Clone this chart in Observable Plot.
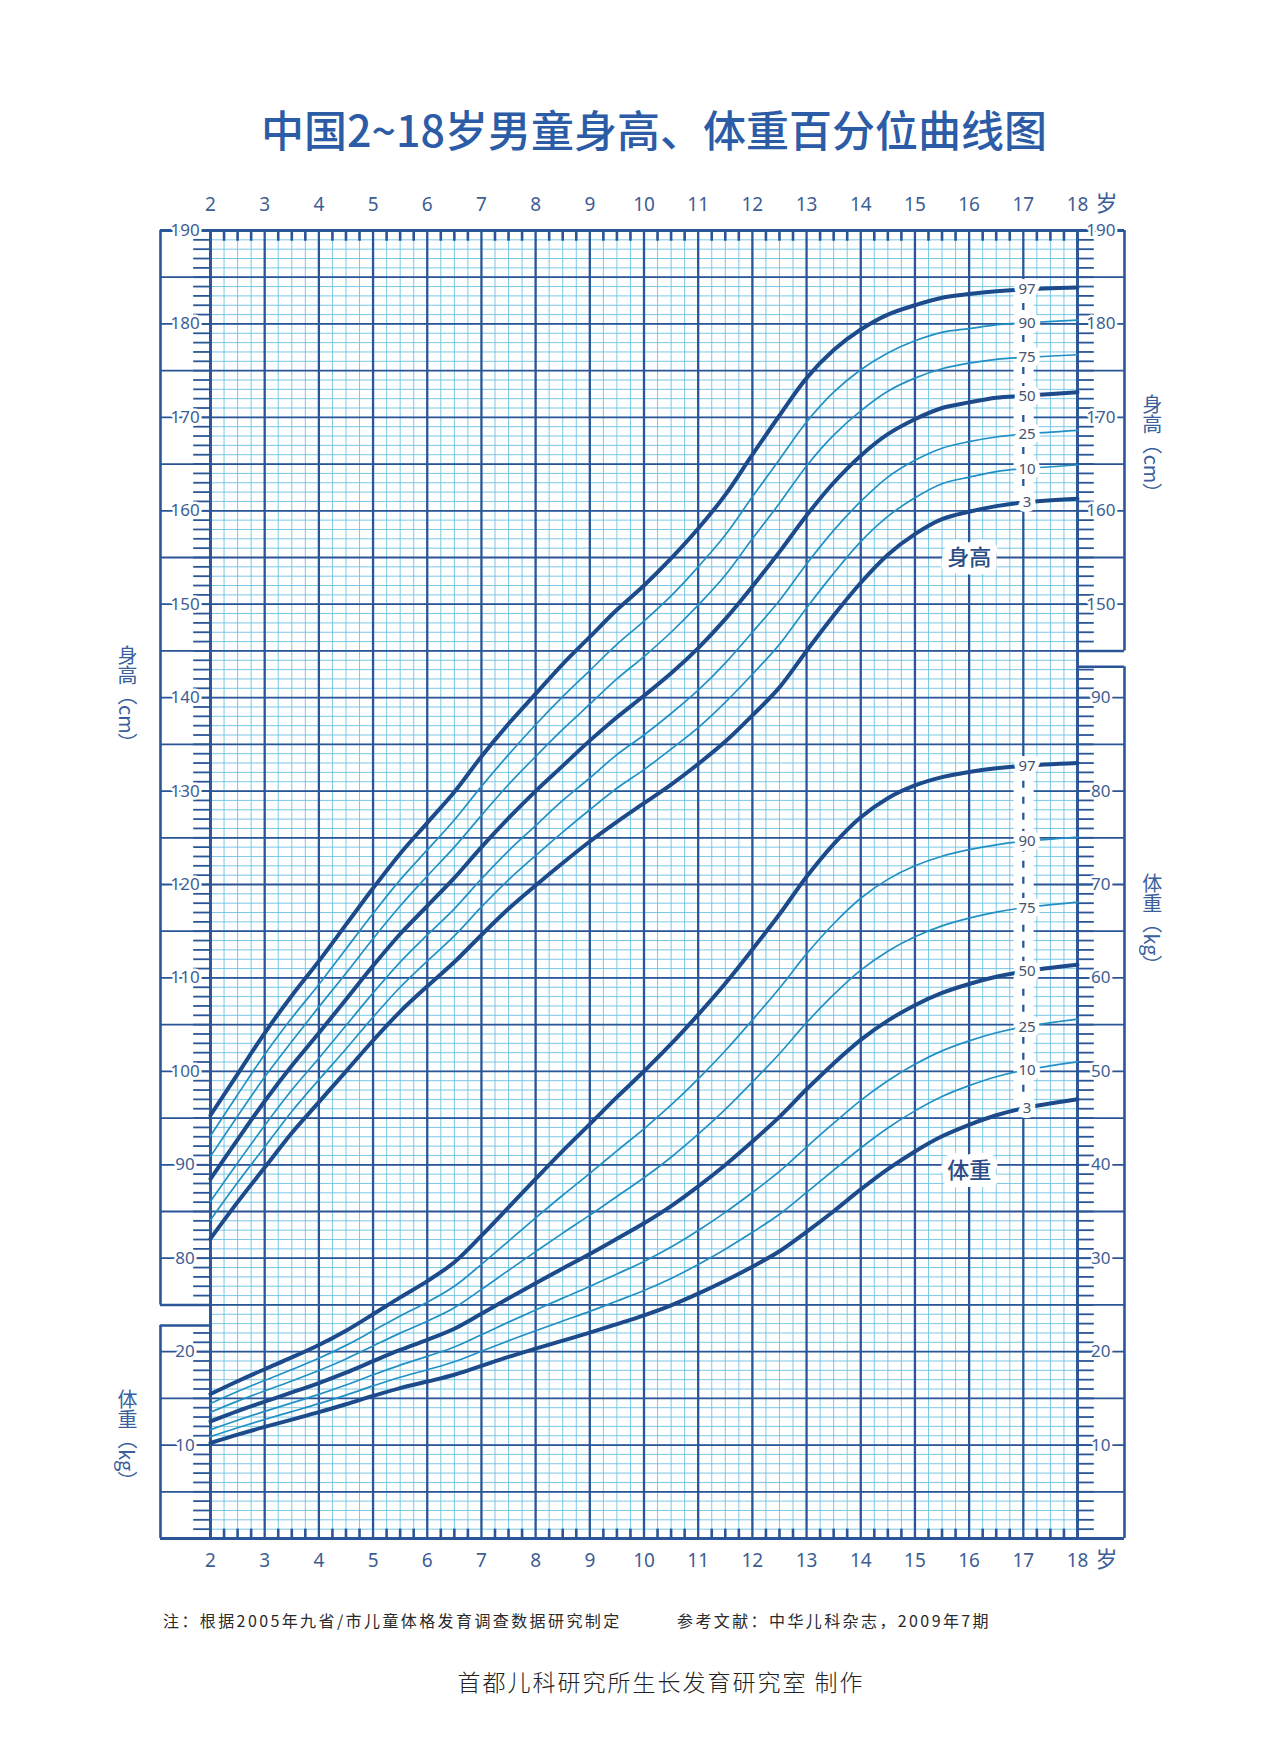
<!DOCTYPE html>
<html>
<head>
<meta charset="utf-8">
<script src="https://cdn.jsdelivr.net/npm/d3@7"></script>
<script src="https://cdn.jsdelivr.net/npm/@observablehq/plot@0.6"></script>
<style>
  body { margin: 0; background: #ffffff; }
  #page { position: relative; width: 1280px; height: 1752px; overflow: hidden; background: #ffffff; }
  #title { position: absolute; top: 100px; left: 14px; width: 1280px; text-align: center;
           font-family: "Noto Sans CJK SC", sans-serif; font-size: 43px; font-weight: 500;
           color: #2c5ca6; line-height: 56px; white-space: nowrap; }
  #chart { position: absolute; top: 160px; left: 0; }
  .note { position: absolute; top: 1609px; font-family: "Noto Sans CJK SC", sans-serif;
          font-size: 16px; line-height: 22px; color: #2a2a2a; letter-spacing: 2.4px; white-space: nowrap; }
  #credit { position: absolute; top: 1665px; left: 0; width: 1280px; text-align: center; padding-left: 42px; box-sizing: border-box;
            font-family: "Noto Sans CJK SC", sans-serif; font-size: 23px; font-weight: 300; line-height: 32px;
            color: #222; letter-spacing: 2px; white-space: nowrap; }
</style>
</head>
<body>
<div id="page">
  <div id="title">中国2~18岁男童身高、体重百分位曲线图</div>
  <div id="chart"></div>
  <div class="note" style="left:163px;">注：根据2005年九省/市儿童体格发育调查数据研究制定</div>
  <div class="note" style="left:677px;">参考文献：中华儿科杂志，2009年7期</div>
  <div id="credit">首都儿科研究所生长发育研究室 制作</div>
</div>
<script>
// ---------------- data ----------------
const ages = [2,2.5,3,3.5,4,4.5,5,5.5,6,6.5,7,7.5,8,8.5,9,9.5,10,10.5,11,11.5,12,12.5,13,13.5,14,14.5,15,15.5,16,16.5,17,18];
const percentiles = [3,10,25,50,75,90,97];
const thickPercentiles = [3,50,97];

// height (cm)
const heightP3  = [82.1,86.0,89.7,93.4,96.7,100.0,103.3,106.4,109.1,111.7,114.6,117.4,119.9,122.3,124.6,126.7,128.7,130.7,132.9,135.3,138.1,141.1,145.0,148.8,152.3,155.3,157.5,159.1,159.9,160.5,160.9,161.3];
const heightP10 = [84.1,88.1,91.9,95.7,99.1,102.4,105.8,109.0,111.8,114.5,117.6,120.5,123.1,125.6,128.0,130.3,132.3,134.5,136.8,139.5,142.5,145.7,149.6,153.3,156.7,159.4,161.4,162.9,163.6,164.2,164.5,164.9];
const heightP25 = [86.1,90.2,94.2,98.0,101.4,104.9,108.4,111.7,114.6,117.4,120.6,123.6,126.3,129.0,131.4,133.9,136.0,138.3,140.8,143.7,147.0,150.4,154.3,157.9,161.0,163.6,165.4,166.7,167.4,167.9,168.2,168.6];
const heightP50 = [88.5,92.7,96.8,100.6,104.1,107.7,111.3,114.7,117.7,120.7,124.0,127.1,130.0,132.7,135.4,137.9,140.2,142.6,145.3,148.4,151.9,155.6,159.5,163.0,165.9,168.2,169.8,171.0,171.6,172.1,172.3,172.7];
const heightP75 = [90.9,95.2,99.4,103.2,106.9,110.5,114.2,117.7,120.9,124.0,127.4,130.7,133.7,136.6,139.3,142.0,144.4,147.0,149.9,153.1,157.0,160.8,164.8,168.1,170.7,172.8,174.2,175.2,175.8,176.2,176.4,176.7];
const heightP90 = [93.1,97.5,101.8,105.7,109.3,113.1,116.9,120.5,123.7,126.9,130.5,133.9,137.1,140.1,142.9,145.7,148.2,150.9,154.0,157.4,161.5,165.5,169.5,172.7,175.1,176.9,178.2,179.1,179.5,179.9,180.1,180.4];
const heightP97 = [95.3,99.7,104.1,108.1,111.8,115.7,119.6,123.3,126.6,129.9,133.7,137.2,140.4,143.6,146.5,149.4,152.0,154.9,158.1,161.7,166.0,170.2,174.2,177.2,179.4,181.0,182.0,182.8,183.2,183.5,183.7,183.9];

// weight (kg)
const weightP3  = [10.22,11.11,11.94,12.73,13.52,14.37,15.26,16.09,16.80,17.53,18.48,19.43,20.32,21.18,22.04,22.95,23.89,24.96,26.21,27.59,29.09,30.74,32.82,35.03,37.36,39.53,41.43,43.05,44.28,45.30,46.04,47.01];
const weightP10 = [10.90,11.85,12.74,13.58,14.43,15.35,16.33,17.26,18.06,18.92,20.04,21.17,22.24,23.28,24.31,25.42,26.55,27.83,29.33,30.97,32.77,34.71,37.04,39.42,41.80,43.94,45.77,47.31,48.47,49.42,50.11,51.02];
const weightP25 = [11.65,12.66,13.61,14.51,15.43,16.43,17.52,18.56,19.49,20.49,21.81,23.16,24.46,25.73,26.98,28.31,29.66,31.20,32.97,34.91,37.03,39.29,41.90,44.45,46.90,49.00,50.75,52.19,53.26,54.13,54.77,55.60];
const weightP50 = [12.54,13.64,14.65,15.63,16.64,17.75,18.98,20.18,21.26,22.45,24.06,25.72,27.33,28.91,30.46,32.09,33.74,35.58,37.69,39.98,42.49,45.13,48.08,50.85,53.37,55.43,57.08,58.39,59.35,60.12,60.68,61.40];
const weightP75 = [13.51,14.70,15.80,16.86,17.98,19.22,20.61,21.98,23.26,24.70,26.66,28.70,30.71,32.69,34.61,36.61,38.61,40.81,43.27,45.94,48.86,51.89,55.21,58.21,60.83,62.86,64.40,65.57,66.40,67.05,67.51,68.11];
const weightP90 = [14.46,15.73,16.92,18.08,19.29,20.67,22.23,23.81,25.29,27.00,29.35,31.84,34.31,36.74,39.08,41.49,43.85,46.40,49.20,52.21,55.50,58.90,62.57,65.80,68.53,70.55,72.00,73.03,73.73,74.25,74.62,75.08];
const weightP97 = [15.46,16.83,18.12,19.38,20.71,22.24,24.00,25.81,27.55,29.57,32.41,35.45,38.49,41.49,44.35,47.24,50.01,52.93,56.07,59.40,63.04,66.81,70.83,74.33,77.20,79.24,80.60,81.49,82.05,82.44,82.70,83.00];

// tick labels
const yearTicks = [2,3,4,5,6,7,8,9,10,11,12,13,14,15,16,17,18];
const heightTicksLeft = [80,90,100,110,120,130,140,150,160,170,180,190];
const weightTicksLeft = [10,20];
const heightTicksRight = [150,160,170,180,190];
const weightTicksRight = [10,20,30,40,50,60,70,80,90];
const ageUnit = "岁";
const axisTitleHeight = "身高（cm）";
const axisTitleWeight = "体重（kg）";
const curveTitleHeight = "身高";
const curveTitleWeight = "体重";
const labelAge = 17;

// ---------------- layout (decoration) ----------------
const WEIGHT_OFFSET = 50;          // weight kg shares the cm grid: kg + 50
const Y_MIN = 50, Y_MAX = 190;
const X_MIN = 2, X_MAX = 18;
const LEFT_BOX = 1.077, RIGHT_BOX = 18.867;
const LEFT_LABEL = 1.53, RIGHT_LABEL = 18.43;
const LEFT_TITLE = 0.47, RIGHT_TITLE = 19.38;
const TICK_LEN = 0.31;
const LEFT_HEIGHT_FROM = 75, LEFT_WEIGHT_TO = 22.8;
const RIGHT_HEIGHT_FROM = 145, RIGHT_WEIGHT_TO = 93.3;

const C_MINOR = "#6cc2e3";
const C_MAJOR = "#2a5596";
const C_THICK = "#1c4a8b";
const C_THIN  = "#2290c4";
const C_TEXT  = "#3d5e94";
const C_PLABEL = "#44536f";

const heightSeries = {3:heightP3,10:heightP10,25:heightP25,50:heightP50,75:heightP75,90:heightP90,97:heightP97};
const weightSeries = {3:weightP3,10:weightP10,25:weightP25,50:weightP50,75:weightP75,90:weightP90,97:weightP97};

const rows = [];
for (const p of percentiles) {
  ages.forEach((a, i) => {
    rows.push({age: a, v: heightSeries[p][i], key: "h" + p, p});
    rows.push({age: a, v: weightSeries[p][i] + WEIGHT_OFFSET, key: "w" + p, p});
  });
}
const thinRows = rows.filter(d => !thickPercentiles.includes(d.p));
const thickRows = rows.filter(d => thickPercentiles.includes(d.p));

const li = ages.indexOf(labelAge);
const pLabels = [];
for (const p of percentiles) {
  pLabels.push({t: String(p), v: heightSeries[p][li]});
  pLabels.push({t: String(p), v: weightSeries[p][li] + WEIGHT_OFFSET});
}
const strips = [
  {y1: heightP3[li], y2: heightP97[li]},
  {y1: weightP3[li] + WEIGHT_OFFSET, y2: weightP97[li] + WEIGHT_OFFSET}
];

const quarters = d3.range(X_MIN * 4, X_MAX * 4 + 1).map(d => d / 4).filter(d => d % 1 !== 0);
const units = d3.range(Y_MIN, Y_MAX + 1);
const fives = units.filter(d => d % 5 === 0);

const inLeft = v => v >= LEFT_HEIGHT_FROM || v <= LEFT_WEIGHT_TO + WEIGHT_OFFSET;
const inRight = v => v >= RIGHT_HEIGHT_FROM || v <= RIGHT_WEIGHT_TO + WEIGHT_OFFSET;

const axisTitles = [
  {x: LEFT_TITLE, y: 140.5, t: axisTitleHeight},
  {x: LEFT_TITLE, y: 61.2, t: axisTitleWeight},
  {x: RIGHT_TITLE, y: 167.3, t: axisTitleHeight},
  {x: RIGHT_TITLE, y: 116.4, t: axisTitleWeight}
];
const curveTitles = [
  {x: 16, y: 155, t: curveTitleHeight},
  {x: 16, y: 39.3 + WEIGHT_OFFSET, t: curveTitleWeight}
];

const numFont = "Noto Sans, Open Sans, sans-serif";

const chart = Plot.plot({
  width: 1280,
  height: 1440,
  marginTop: 70,
  marginBottom: 62,
  marginLeft: 210,
  marginRight: 203,
  x: {domain: [X_MIN, X_MAX], axis: null},
  y: {domain: [Y_MIN, Y_MAX], axis: null},
  style: {background: "transparent", overflow: "visible"},
  marks: [
    // minor grid
    Plot.ruleY(units, {x1: X_MIN, x2: X_MAX, stroke: C_MINOR, strokeWidth: 0.9}),
    Plot.ruleX(quarters, {y1: Y_MIN, y2: Y_MAX, stroke: C_MINOR, strokeWidth: 0.9}),
    // major grid
    Plot.ruleY(fives, {x1: X_MIN, x2: X_MAX, stroke: C_MAJOR, strokeWidth: 1.8}),
    Plot.ruleX(yearTicks, {y1: Y_MIN, y2: Y_MAX, stroke: C_MAJOR, strokeWidth: 2.3}),
    // top / bottom quarter ticks
    Plot.ruleX(quarters, {y1: Y_MAX, y2: Y_MAX - 1.15, stroke: C_MAJOR, strokeWidth: 2.6}),
    Plot.ruleX(quarters, {y1: Y_MIN, y2: Y_MIN + 1.0, stroke: C_MAJOR, strokeWidth: 2.6}),
    // side unit ticks
    Plot.ruleY(units.filter(inLeft), {x1: X_MIN - TICK_LEN, x2: X_MIN, stroke: C_MAJOR, strokeWidth: 1.8}),
    Plot.ruleY(units.filter(inRight), {x1: X_MAX, x2: X_MAX + TICK_LEN, stroke: C_MAJOR, strokeWidth: 1.8}),
    Plot.ruleY(fives.filter(inLeft), {x1: LEFT_BOX, x2: X_MIN, stroke: C_MAJOR, strokeWidth: 1.8}),
    Plot.ruleY(fives.filter(inRight), {x1: X_MAX, x2: RIGHT_BOX, stroke: C_MAJOR, strokeWidth: 1.8}),
    // borders and boxes
    Plot.ruleY([Y_MIN, Y_MAX], {x1: LEFT_BOX, x2: RIGHT_BOX, stroke: C_MAJOR, strokeWidth: 2.8}),
    Plot.ruleX([X_MIN, X_MAX], {y1: Y_MIN, y2: Y_MAX, stroke: C_MAJOR, strokeWidth: 2.8}),
    Plot.ruleX([LEFT_BOX], {y1: LEFT_HEIGHT_FROM, y2: Y_MAX, stroke: C_MAJOR, strokeWidth: 2.6}),
    Plot.ruleX([LEFT_BOX], {y1: Y_MIN, y2: LEFT_WEIGHT_TO + WEIGHT_OFFSET, stroke: C_MAJOR, strokeWidth: 2.6}),
    Plot.ruleY([LEFT_HEIGHT_FROM, LEFT_WEIGHT_TO + WEIGHT_OFFSET], {x1: LEFT_BOX, x2: X_MIN, stroke: C_MAJOR, strokeWidth: 2.6}),
    Plot.ruleX([RIGHT_BOX], {y1: RIGHT_HEIGHT_FROM, y2: Y_MAX, stroke: C_MAJOR, strokeWidth: 2.6}),
    Plot.ruleX([RIGHT_BOX], {y1: Y_MIN, y2: RIGHT_WEIGHT_TO + WEIGHT_OFFSET, stroke: C_MAJOR, strokeWidth: 2.6}),
    Plot.ruleY([RIGHT_HEIGHT_FROM, RIGHT_WEIGHT_TO + WEIGHT_OFFSET], {x1: X_MAX, x2: RIGHT_BOX, stroke: C_MAJOR, strokeWidth: 2.6}),
    // label column strip with dashed age line
    Plot.rect(strips, {x1: labelAge - 0.17, x2: labelAge + 0.2, y1: "y1", y2: "y2", fill: "white"}),
    Plot.ruleX(strips, {x: labelAge, y1: "y1", y2: "y2", stroke: C_MAJOR, strokeWidth: 2.3, strokeDasharray: "7,9"}),
    // percentile curves
    Plot.line(thinRows, {x: "age", y: "v", z: "key", stroke: C_THIN, strokeWidth: 1.7, curve: "catmull-rom"}),
    Plot.line(thickRows, {x: "age", y: "v", z: "key", stroke: C_THICK, strokeWidth: 4, curve: "catmull-rom"}),
    // percentile labels
    Plot.text(pLabels, {x: labelAge + 0.07, y: "v", text: "t", fontSize: 15, fontFamily: numFont,
      fill: C_PLABEL, stroke: "white", strokeWidth: 10, strokeLinejoin: "round"}),
    // curve titles
    Plot.text(curveTitles, {x: "x", y: "y", text: "t", fontSize: 22, fontWeight: 500,
      fontFamily: "Noto Sans CJK SC, sans-serif", fill: "#2d4d86", stroke: "white", strokeWidth: 14, strokeLinejoin: "round"}),
    // y tick labels
    Plot.text(heightTicksLeft, {x: LEFT_LABEL, y: d => d, text: d => String(d), fontSize: 17, fontFamily: numFont,
      fill: C_TEXT, stroke: "white", strokeWidth: 5}),
    Plot.text(weightTicksLeft, {x: LEFT_LABEL, y: d => d + WEIGHT_OFFSET, text: d => String(d), fontSize: 17, fontFamily: numFont,
      fill: C_TEXT, stroke: "white", strokeWidth: 5}),
    Plot.text(heightTicksRight, {x: RIGHT_LABEL, y: d => d, text: d => String(d), fontSize: 17, fontFamily: numFont,
      fill: C_TEXT, stroke: "white", strokeWidth: 5}),
    Plot.text(weightTicksRight, {x: RIGHT_LABEL, y: d => d + WEIGHT_OFFSET, text: d => String(d), fontSize: 17, fontFamily: numFont,
      fill: C_TEXT, stroke: "white", strokeWidth: 5}),
    // x tick labels (top and bottom)
    Plot.text(yearTicks, {x: d => d, y: Y_MAX, dy: -26, text: d => String(d), fontSize: 19, fontFamily: numFont, fill: C_TEXT}),
    Plot.text(yearTicks, {x: d => d, y: Y_MIN, dy: 22, text: d => String(d), fontSize: 19, fontFamily: numFont, fill: C_TEXT}),
    Plot.text([ageUnit], {x: X_MAX, y: Y_MAX, dx: 29, dy: -27, text: d => d, fontSize: 22, fontFamily: "Noto Sans CJK SC, sans-serif", fill: C_TEXT}),
    Plot.text([ageUnit], {x: X_MAX, y: Y_MIN, dx: 29, dy: 21, text: d => d, fontSize: 22, fontFamily: "Noto Sans CJK SC, sans-serif", fill: C_TEXT}),
    // axis titles (vertical)
    Plot.text(axisTitles, {x: "x", y: "y", text: "t", fontSize: 20, fontFamily: "Noto Sans CJK SC, sans-serif", fill: "#3a5f9c"})
  ]
});

// vertical writing for axis titles
d3.select(chart).selectAll("text")
  .filter(function () { const t = this.textContent; return t === axisTitleHeight || t === axisTitleWeight; })
  .attr("dy", null)
  .style("writing-mode", "vertical-rl");

document.getElementById("chart").appendChild(chart);
</script>
</body>
</html>
